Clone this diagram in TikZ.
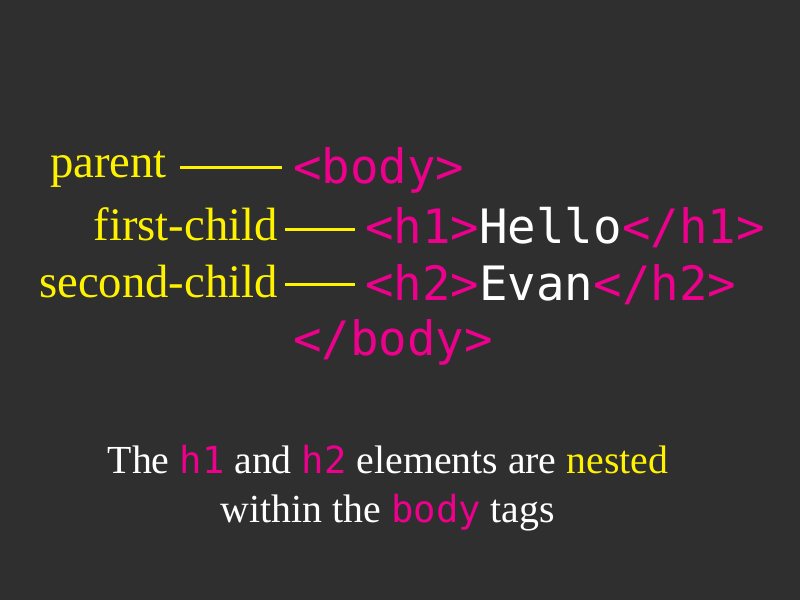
\documentclass[tikz,border=0pt]{standalone}
\usepackage{xcolor}
\usepackage{fontspec}
\setmainfont{Liberation Serif}
\setmonofont{DejaVu Sans Mono}
\usepackage{tikz}
\usetikzlibrary{positioning}
\definecolor{slateBg}{HTML}{2F2F2F}
\definecolor{tagPink}{HTML}{EC008C}
\definecolor{relYellow}{HTML}{FFF200}
\newcommand{\tagword}[1]{{\ttfamily\fontsize{26.5}{30}\selectfont\color{tagPink}#1}}

\begin{document}
\begin{tikzpicture}[
  x=0.025cm, y=-0.025cm,
  rel/.style={anchor=base east, inner sep=0pt, text=relYellow, font=\fontsize{33.2}{40}\selectfont},
  code/.style={anchor=base west, inner sep=0pt, text=white, font=\ttfamily\fontsize{33.7}{40}\selectfont},
  caption/.style={anchor=base, inner sep=0pt, text=white, font=\fontsize{28.3}{34}\selectfont},
  link/.style={draw=relYellow, line width=0.075cm}
]
\fill[slateBg] (0,0) rectangle (800,600);
\node[code] (body) at (293,183) {\color{tagPink}<body>};
\node[code] (hone) at (365,243) {{\color{tagPink}<h1>}Hello{\color{tagPink}</h1>}};
\node[code] (htwo) at (365,300) {{\color{tagPink}<h2>}Evan{\color{tagPink}</h2>}};
\node[code] (bodyend) at (293,355) {\color{tagPink}</body>};
\node[rel] (parent) at (167,177) {parent};
\node[rel] (first) at (278,240) {first-child};
\node[rel] (second) at (278,297) {second-child};
\draw[link] ([shift={(13,-10)}]parent.base east) -- ([shift={(-11,-16)}]body.base west);
\draw[link] ([shift={(7,-11)}]first.base east) -- ([shift={(-10,-14)}]hone.base west);
\draw[link] ([shift={(7,-13)}]second.base east) -- ([shift={(-10,-16)}]htwo.base west);
\node[caption] (capone) at (388,473) {The \tagword{h1} and \tagword{h2} elements are {\color{relYellow}nested}};
\node[caption] (captwo) at (388,522) {within the \tagword{body} tags};
\end{tikzpicture}
\end{document}
